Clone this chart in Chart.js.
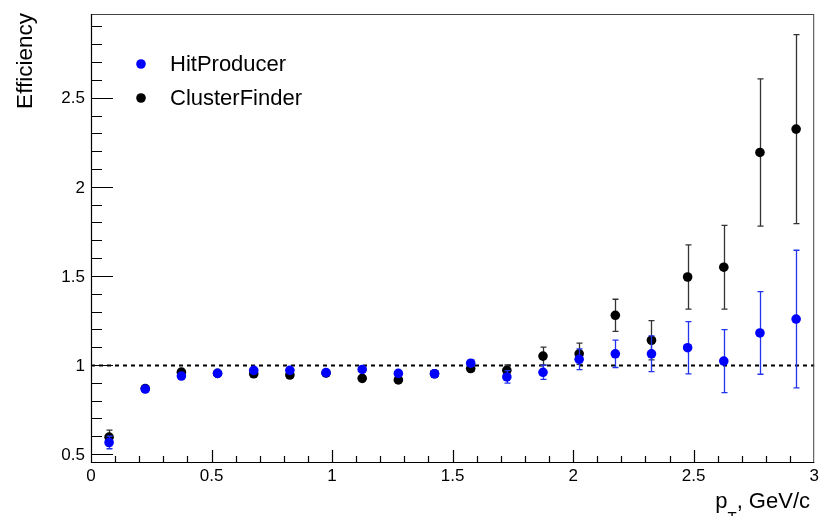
<!DOCTYPE html>
<html>
<head>
<meta charset="utf-8">
<script src="https://cdn.jsdelivr.net/npm/chart.js@4/dist/chart.umd.min.js"></script>
<style>
  html, body { margin: 0; padding: 0; background: #fff; }
  #wrap { width: 819px; height: 516px; }
</style>
</head>
<body>
<div id="wrap"><canvas id="eff" width="819" height="516"></canvas></div>
<script>
// pT bin centres, GeV/c
const ptBins = [0.075, 0.225, 0.375, 0.525, 0.675, 0.825, 0.975, 1.125, 1.275, 1.425,
                1.575, 1.725, 1.875, 2.025, 2.175, 2.325, 2.475, 2.625, 2.775, 2.925];

const hitEff = [0.565, 0.865, 0.938, 0.953, 0.970, 0.970, 0.957, 0.975, 0.953, 0.951,
                1.010, 0.933, 0.959, 1.032, 1.063, 1.063, 1.097, 1.022, 1.180, 1.258];
const hitErr = [0.035, 0.012, 0.012, 0.010, 0.010, 0.010, 0.010, 0.012, 0.012, 0.012,
                0.018, 0.035, 0.040, 0.058, 0.077, 0.100, 0.147, 0.177, 0.232, 0.386];

const clusterEff = [0.595, 0.868, 0.960, 0.953, 0.951, 0.944, 0.955, 0.925, 0.916, 0.951,
                    0.980, 0.970, 1.050, 1.063, 1.279, 1.139, 1.494, 1.549, 2.193, 2.324];
const clusterErr = [0.040, 0.012, 0.015, 0.010, 0.010, 0.010, 0.010, 0.012, 0.012, 0.012,
                    0.015, 0.030, 0.050, 0.060, 0.090, 0.110, 0.180, 0.235, 0.413, 0.530];

// axis ticks
const xMajor = [0, 0.5, 1, 1.5, 2, 2.5, 3];
const xLabels = ['0', '0.5', '1', '1.5', '2', '2.5', '3'];
const yMajor = [0.5, 1, 1.5, 2, 2.5];
const yLabels = ['0.5', '1', '1.5', '2', '2.5'];

const FONT = '"Liberation Sans", Arial, Helvetica, sans-serif';

function pts(ys, errs) {
  return ptBins.map((x, i) => ({ x: x, y: ys[i], err: errs[i] }));
}

// error bars with small caps, drawn under each dataset's markers
const errorBars = {
  id: 'errorBars',
  beforeDatasetDraw(chart, args) {
    const { ctx, scales: { x, y } } = chart;
    const ds = chart.data.datasets[args.index];
    ctx.save();
    ctx.strokeStyle = ds.errColor;
    ctx.lineWidth = 1.3;
    ds.data.forEach(p => {
      const px = Math.round(x.getPixelForValue(p.x)) + 0.5;
      const yt = y.getPixelForValue(p.y + p.err);
      const yb = y.getPixelForValue(p.y - p.err);
      ctx.beginPath();
      ctx.moveTo(px, yt); ctx.lineTo(px, yb);
      ctx.moveTo(px - 3, yt); ctx.lineTo(px + 3, yt);
      ctx.moveTo(px - 3, yb); ctx.lineTo(px + 3, yb);
      ctx.stroke();
    });
    ctx.restore();
  }
};

// frame, inward ticks, labels, unity line and legend
const frame = {
  id: 'frame',
  beforeDatasetsDraw(chart) {
    const { ctx, chartArea: a, scales: { y } } = chart;
    ctx.save();
    // dotted line at efficiency = 1
    const y1 = Math.round(y.getPixelForValue(1)) + 0.5;
    ctx.strokeStyle = '#000';
    ctx.lineWidth = 2;
    ctx.setLineDash([4, 4]);
    ctx.beginPath();
    ctx.moveTo(a.left, y1); ctx.lineTo(a.right, y1);
    ctx.stroke();
    ctx.restore();
  },
  afterDraw(chart) {
    const { ctx, chartArea: a, scales: { x, y } } = chart;
    ctx.save();
    ctx.strokeStyle = '#444';
    ctx.lineWidth = 1;
    ctx.strokeRect(a.left + 0.5, a.top + 0.5, a.right - a.left - 1, a.bottom - a.top - 1);

    ctx.strokeStyle = '#000';
    ctx.lineWidth = 1.2;
    ctx.beginPath();
    ctx.moveTo(a.left + 0.5, a.top); ctx.lineTo(a.left + 0.5, a.bottom);
    ctx.moveTo(a.left, a.bottom - 0.5); ctx.lineTo(a.right, a.bottom - 0.5);
    // y ticks every 0.1
    for (let k = 5; k <= 29; k++) {
      const py = Math.round(y.getPixelForValue(k / 10)) + 0.5;
      const len = k % 5 === 0 ? 22 : 11;
      ctx.moveTo(a.left, py); ctx.lineTo(a.left + len, py);
    }
    // x ticks every 0.1
    for (let k = 1; k < 30; k++) {
      const px = Math.round(x.getPixelForValue(k / 10)) + 0.5;
      const len = k % 5 === 0 ? 13 : 7;
      ctx.moveTo(px, a.bottom); ctx.lineTo(px, a.bottom - len);
    }
    ctx.stroke();

    ctx.fillStyle = '#000';
    ctx.font = '17px ' + FONT;
    ctx.textAlign = 'right';
    ctx.textBaseline = 'middle';
    yMajor.forEach((v, i) => ctx.fillText(yLabels[i], a.left - 6, y.getPixelForValue(v) + 1));
    ctx.textAlign = 'center';
    ctx.textBaseline = 'top';
    xMajor.forEach((v, i) => ctx.fillText(xLabels[i], x.getPixelForValue(v), a.bottom + 5));

    // axis titles
    ctx.font = '22.5px ' + FONT;
    ctx.save();
    ctx.translate(32, a.top - 1);
    ctx.rotate(-Math.PI / 2);
    ctx.textAlign = 'right';
    ctx.textBaseline = 'alphabetic';
    ctx.fillText('Efficiency', 0, 0);
    ctx.restore();

    ctx.textAlign = 'left';
    ctx.textBaseline = 'alphabetic';
    const tail = ', GeV/c';
    ctx.font = '22px ' + FONT;
    const wTail = ctx.measureText(tail).width;
    const wP = ctx.measureText('p').width;
    ctx.font = '15px ' + FONT;
    const wSub = ctx.measureText('T').width;
    let tx = 810 - wTail - wSub - wP;
    const base = 508;
    ctx.font = '22px ' + FONT;
    ctx.fillText('p', tx, base);
    tx += wP;
    ctx.font = '15px ' + FONT;
    ctx.fillText('T', tx, base + 14);
    tx += wSub;
    ctx.font = '22px ' + FONT;
    ctx.fillText(tail, tx, base);

    // legend
    ctx.textBaseline = 'middle';
    chart.data.datasets.forEach((ds, i) => {
      const ly = 64 + i * 34;
      ctx.fillStyle = ds.backgroundColor;
      ctx.beginPath();
      ctx.arc(141, ly, 4.8, 0, Math.PI * 2);
      ctx.fill();
      ctx.fillStyle = '#000';
      ctx.fillText(ds.label, 170, ly + 1);
    });
    ctx.restore();
  }
};

new Chart(document.getElementById('eff'), {
  type: 'scatter',
  data: {
    datasets: [
      {
        label: 'HitProducer',
        data: pts(hitEff, hitErr),
        backgroundColor: '#0000ff',
        borderWidth: 0,
        pointRadius: 4.8,
        errColor: '#2233ee'
      },
      {
        label: 'ClusterFinder',
        data: pts(clusterEff, clusterErr),
        backgroundColor: '#000000',
        borderWidth: 0,
        pointRadius: 4.8,
        errColor: '#333333'
      }
    ]
  },
  options: {
    responsive: false,
    animation: false,
    layout: { padding: { left: 91, right: 4, top: 14, bottom: 53 } },
    plugins: { legend: { display: false }, tooltip: { enabled: false } },
    scales: {
      x: { type: 'linear', min: 0, max: 3, display: false },
      y: { type: 'linear', min: 0.45, max: 2.97, display: false }
    }
  },
  plugins: [errorBars, frame]
});
</script>
</body>
</html>
